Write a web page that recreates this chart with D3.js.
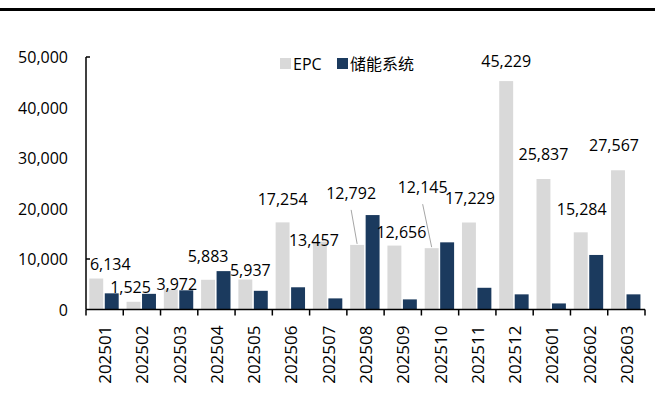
<!DOCTYPE html>
<html>
<head>
<meta charset="utf-8">
<script src="https://cdn.jsdelivr.net/npm/d3@7"></script>
<style>
  body { margin: 0; background: #fff; }
  text { font-family: "Open Sans", "Noto Sans CJK SC", sans-serif; fill: #000; }
</style>
</head>
<body>
<div id="chart"></div>
<script>
// Months on the category axis.
var months = ['202501', '202502', '202503', '202504', '202505', '202506', '202507',
              '202508', '202509', '202510', '202511', '202512', '202601', '202602', '202603'];
// EPC series (labelled in the chart).
var epcValues = [6134, 1525, 3972, 5883, 5937, 17254, 13457, 12792, 12656, 12145,
                 17229, 45229, 25837, 15284, 27567];
// Energy storage system series.
var essValues = [3200, 3100, 3800, 7600, 3700, 4400, 2200, 18700, 2000, 13300,
                 4300, 3000, 1200, 10800, 3000];
var seriesNames = ['EPC', '储能系统'];
var yTicks = [0, 10000, 20000, 30000, 40000, 50000];

// Hand-placed label offsets, relative to the top centre of each EPC bar.
var labelDx = [14, -3, 6, 0, 5, 0, -6, -6, 7, -9, 1, 0, 0, 1, -4];
var labelDy = [-15, -15, -5, -24, -10, -23, -2, -52, -14, -61, -24, -20, -25, -23, -25];
// Labels pulled away from their bar get a leader line.
var leaderIdx = [7, 9];

var COLORS = ['#d9d9d9', '#1b3a5e'];

function main() {
  var width = 655, height = 403;
  var left = 86, right = 645, bottom = 309.5, top = 57;

  var svg = d3.select('#chart').append('svg')
    .attr('width', width)
    .attr('height', height);

  // Header rule.
  svg.append('rect')
    .attr('x', 0).attr('y', 8)
    .attr('width', width).attr('height', 3)
    .attr('fill', '#000');

  var x = d3.scaleBand().domain(months).range([left, right]);
  var x1 = d3.scaleBand().domain([0, 1]).range([3.3, 32.7]).paddingInner(0.1);
  var y = d3.scaleLinear().domain([0, 50000]).range([bottom, top]);

  var rows = months.map(function(m, i) {
    return {month: m, i: i, vals: [epcValues[i], essValues[i]]};
  });

  var groups = svg.selectAll('.grp')
    .data(rows)
  .enter().append('g')
    .attr('class', 'grp')
    .attr('transform', function(d) { return 'translate(' + x(d.month) + ',0)'; });

  groups.selectAll('rect')
    .data(function(d) { return d.vals.map(function(v, s) { return {s: s, v: v}; }); })
  .enter().append('rect')
    .attr('x', function(d) { return x1(d.s); })
    .attr('width', x1.bandwidth())
    .attr('y', function(d) { return y(d.v); })
    .attr('height', function(d) { return bottom - y(d.v); })
    .attr('fill', function(d) { return COLORS[d.s]; });

  // Leader lines.
  leaderIdx.forEach(function(i) {
    var bx = x(months[i]) + x1(0) + x1.bandwidth() / 2;
    var by = y(epcValues[i]);
    svg.append('line')
      .attr('x1', bx + labelDx[i]).attr('y1', by + labelDy[i] + 17)
      .attr('x2', bx).attr('y2', by - 1)
      .attr('stroke', '#a6a6a6').attr('stroke-width', 1);
  });

  // EPC data labels.
  svg.selectAll('.lbl')
    .data(rows)
  .enter().append('text')
    .attr('class', 'lbl')
    .attr('x', function(d) { return x(d.month) + x1(0) + x1.bandwidth() / 2 + labelDx[d.i]; })
    .attr('y', function(d) { return y(d.vals[0]) + labelDy[d.i]; })
    .attr('text-anchor', 'middle')
    .attr('dominant-baseline', 'central')
    .style('font-size', '16px')
    .text(function(d) { return d3.format(',')(d.vals[0]); });

  // Y axis.
  var yAxis = svg.append('g');
  yAxis.append('line')
    .attr('x1', left).attr('x2', left)
    .attr('y1', top).attr('y2', bottom)
    .attr('stroke', '#000').attr('stroke-width', 1.5);
  yAxis.selectAll('.tk')
    .data([10000, 50000])
  .enter().append('line')
    .attr('x1', left).attr('x2', left + 4)
    .attr('y1', function(d) { return y(d); })
    .attr('y2', function(d) { return y(d); })
    .attr('stroke', '#000').attr('stroke-width', 1.5);
  yAxis.selectAll('text')
    .data(yTicks)
  .enter().append('text')
    .attr('x', 68)
    .attr('y', function(d) { return y(d); })
    .attr('text-anchor', 'end')
    .attr('dominant-baseline', 'central')
    .style('font-size', '16px')
    .text(function(d) { return d3.format(',')(d); });

  // X axis.
  var xAxis = svg.append('g');
  xAxis.append('line')
    .attr('x1', left).attr('x2', right)
    .attr('y1', bottom).attr('y2', bottom)
    .attr('stroke', '#000').attr('stroke-width', 1.5);
  var bounds = months.map(function(m) { return x(m); }).concat([right]);
  xAxis.selectAll('.tk')
    .data(bounds)
  .enter().append('line')
    .attr('x1', function(d) { return d; }).attr('x2', function(d) { return d; })
    .attr('y1', bottom).attr('y2', bottom + 6)
    .attr('stroke', '#000').attr('stroke-width', 1.5);
  xAxis.selectAll('text')
    .data(months)
  .enter().append('text')
    .attr('transform', function(d) {
      return 'translate(' + (x(d) + x.bandwidth() / 2) + ',' + (bottom + 16) + ') rotate(-90)';
    })
    .attr('text-anchor', 'end')
    .attr('dominant-baseline', 'central')
    .style('font-size', '17px')
    .text(function(d) { return d; });

  // Legend.
  var legendX = [280, 337];
  var legend = svg.selectAll('.lg')
    .data(seriesNames)
  .enter().append('g')
    .attr('class', 'lg')
    .attr('transform', function(d, i) { return 'translate(' + legendX[i] + ',58)'; });
  legend.append('rect')
    .attr('width', 11).attr('height', 11)
    .attr('fill', function(d, i) { return COLORS[i]; });
  legend.append('text')
    .attr('x', 13).attr('y', 6)
    .attr('dominant-baseline', 'central')
    .style('font-size', '16px')
    .text(function(d) { return d; });
}

main();
</script>
</body>
</html>
